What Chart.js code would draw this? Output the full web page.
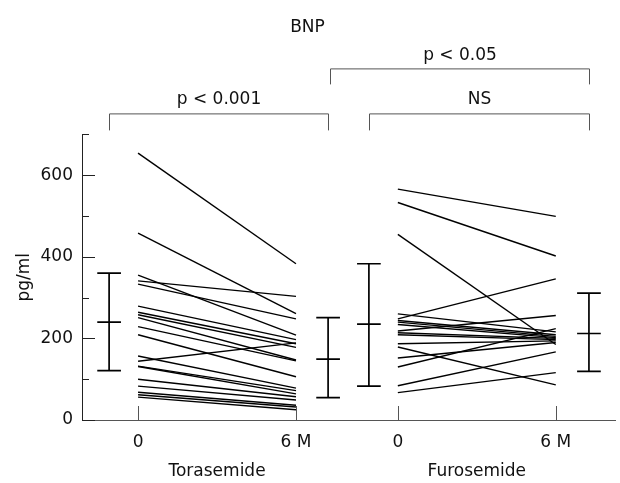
<!DOCTYPE html>
<html>
<head>
<meta charset="utf-8">
<script src="https://cdn.jsdelivr.net/npm/chart.js@4"></script>
<style>
  html, body { margin: 0; padding: 0; background: #fff; }
  #wrap { width: 620px; height: 483px; position: relative; }
</style>
</head>
<body>
<div id="wrap"><canvas id="c"></canvas></div>
<script>
// ---------------- data ----------------
const chartTitle = 'BNP';
const yAxisTitle = 'pg/ml';
const groups = ['Torasemide', 'Furosemide'];
const timeLabels = ['0', '6 M'];
const yTickLabels = [0, 200, 400, 600];

const torasemideBaseline = [654, 458, 355, 341, 333, 279, 264, 258, 251, 229, 209, 157, 144, 132, 131, 100, 83, 68, 62, 56];
const torasemide6M       = [383, 261, 208, 303, 248, 197, 187, 178, 147, 145, 106, 78, 189, 72, 64, 57, 49, 36, 32, 25];

const furosemideBaseline = [566, 533, 455, 248, 260, 244, 240, 234, 218, 214, 209, 187, 179, 152, 130, 84, 67];
const furosemide6M       = [499, 402, 185, 346, 216, 209, 205, 202, 256, 200, 197, 194, 86, 190, 224, 167, 116];

// summary bars: Torasemide 0, Torasemide 6M, Furosemide 0, Furosemide 6M
const summaryMean  = [240, 149, 235, 212];
const summaryUpper = [360, 251, 383, 311];
const summaryLower = [121, 55, 83, 119];

const pLabels = ['p < 0.001', 'NS', 'p < 0.05'];

// ---------------- layout (positions on the x scale) ----------------
const timePos = [[0, 6], [9.87, 15.87]];
const barPos = [-1.10, 7.22, 8.77, 17.13];
const capHalf = 0.45;
const FONT = '"DejaVu Sans", sans-serif';

const datasets = [];
function addLine(points, width) {
  datasets.push({
    data: points, showLine: true, borderColor: '#000', borderWidth: width,
    pointRadius: 0, fill: false, tension: 0
  });
}
torasemideBaseline.forEach((v, i) => addLine([{x: timePos[0][0], y: v}, {x: timePos[0][1], y: torasemide6M[i]}], 1.4));
furosemideBaseline.forEach((v, i) => addLine([{x: timePos[1][0], y: v}, {x: timePos[1][1], y: furosemide6M[i]}], 1.4));
summaryMean.forEach((m, i) => {
  const bx = barPos[i];
  addLine([{x: bx, y: summaryLower[i]}, {x: bx, y: summaryUpper[i]}], 1.7);
  [summaryLower[i], m, summaryUpper[i]].forEach(v => addLine([{x: bx - capHalf, y: v}, {x: bx + capHalf, y: v}], 1.7));
});

const xTickValues = [timePos[0][0], timePos[0][1], timePos[1][0], timePos[1][1]];
const xTickText = [timeLabels[0], timeLabels[1], timeLabels[0], timeLabels[1]];

const annot = {
  id: 'annot',
  afterDraw(chart) {
    const {ctx, chartArea, scales: {x, y}} = chart;
    ctx.save();
    const seg = (x1, y1, x2, y2) => { ctx.beginPath(); ctx.moveTo(x1, y1); ctx.lineTo(x2, y2); ctx.stroke(); };
    // inward y ticks
    ctx.strokeStyle = '#222'; ctx.lineWidth = 1;
    for (let v = 0; v <= 700; v += 100) {
      const py = Math.round(y.getPixelForValue(v)) + 0.5;
      const len = v % 200 === 0 ? 13 : 7;
      seg(chartArea.left, py, chartArea.left + len, py);
    }
    // inward x ticks
    ctx.strokeStyle = '#555';
    xTickValues.forEach(v => {
      const px = Math.round(x.getPixelForValue(v)) + 0.5;
      seg(px, chartArea.bottom, px, chartArea.bottom - 14);
    });
    // group labels
    ctx.fillStyle = '#111'; ctx.font = '17px ' + FONT;
    ctx.textAlign = 'center'; ctx.textBaseline = 'middle';
    groups.forEach((g, i) => {
      const cx = (x.getPixelForValue(timePos[i][0]) + x.getPixelForValue(timePos[i][1])) / 2;
      ctx.fillText(g, cx, 472);
    });
    // brackets
    ctx.strokeStyle = '#555'; ctx.lineWidth = 1;
    const bracket = (xa, xb, yTop, yLeg, label, ty) => {
      const a = Math.round(x.getPixelForValue(xa)) + 0.5, b = Math.round(x.getPixelForValue(xb)) + 0.5;
      ctx.beginPath(); ctx.moveTo(a, yLeg); ctx.lineTo(a, yTop); ctx.lineTo(b, yTop); ctx.lineTo(b, yLeg); ctx.stroke();
      ctx.fillText(label, (a + b) / 2, ty);
    };
    const t = chartArea.top;
    bracket(barPos[0], barPos[1], t - 20.5, t - 4, pLabels[0], t - 35);
    bracket(barPos[2], barPos[3], t - 20.5, t - 4, pLabels[1], t - 35);
    bracket(barPos[1] + 0.08, barPos[3], t - 65.5, t - 50, pLabels[2], t - 79);
    ctx.restore();
  }
};

new Chart(document.getElementById('c'), {
  type: 'scatter',
  data: { datasets },
  options: {
    responsive: true, maintainAspectRatio: false, animation: false,
    layout: { padding: { left: 0, right: 5, top: 0, bottom: 0 } },
    plugins: {
      legend: { display: false }, tooltip: { enabled: false },
      title: { display: true, text: chartTitle, color: '#111',
               font: { family: FONT, size: 17, weight: 'normal' },
               padding: { top: 17, bottom: 97 } }
    },
    scales: {
      x: {
        type: 'linear', min: -2.13, max: 18.12,
        grid: { display: false, drawTicks: false },
        border: { display: true, color: '#555', width: 1 },
        afterBuildTicks: (s) => { s.ticks = xTickValues.map(v => ({ value: v })); },
        afterFit: (s) => { s.height = 63; },
        ticks: { autoSkip: false, maxRotation: 0, padding: 12, color: '#111',
                 font: { family: FONT, size: 17 },
                 callback: (v, i) => xTickText[i] }
      },
      y: {
        min: 0, max: 700,
        grid: { display: false, drawTicks: false },
        border: { display: true, color: '#222', width: 1 },
        afterFit: (s) => { s.width = 82; },
        title: { display: true, text: yAxisTitle, color: '#111',
                 font: { family: FONT, size: 17 }, padding: { top: 14, bottom: 0 } },
        ticks: { stepSize: 100, autoSkip: false, padding: 9, color: '#111',
                 font: { family: FONT, size: 17 },
                 callback: (v) => yTickLabels.includes(v) ? String(v) : '' }
      }
    }
  },
  plugins: [annot]
});
</script>
</body>
</html>
